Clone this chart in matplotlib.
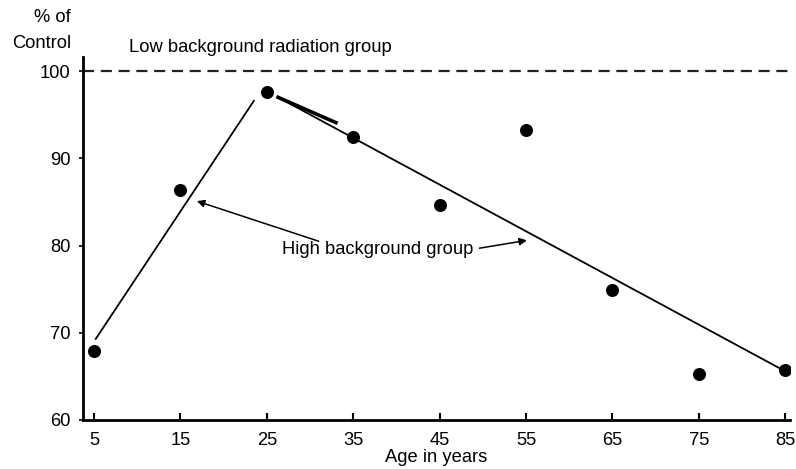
import matplotlib
matplotlib.use("Agg")
import matplotlib.pyplot as plt

plt.rcParams['font.family'] = ['Liberation Sans', 'DejaVu Sans']

# Data
ages = [5, 15, 25, 35, 45, 55, 65, 75, 85]
pct_control = [67.9, 86.4, 97.6, 92.5, 84.7, 93.3, 74.9, 65.3, 65.7]

# fitted trend lines (end points)
rise_x = [5.2, 23.5]
rise_y = [69.3, 96.6]
fall_x = [26.3, 84.4]
fall_y = [97.0, 65.9]
fall_thick_x = [26.3, 33.0]
fall_thick_y = [97.0, 94.1]

low_group_level = 100

xticks = [5, 15, 25, 35, 45, 55, 65, 75, 85]
yticks = [60, 70, 80, 90, 100]

fs = 13.2

fig = plt.figure(figsize=(7.96, 4.69), dpi=100)
ax = fig.add_axes([0.104, 0.1045, 0.888, 0.7735])

ax.axhline(low_group_level, color="#222222", lw=1.6, ls=(0, (5, 3)))
ax.plot(rise_x, rise_y, color="black", lw=1.3)
ax.plot(fall_x, fall_y, color="black", lw=1.3)
ax.plot(fall_thick_x, fall_thick_y, color="black", lw=2.6)
ax.scatter(ages, pct_control, s=70, color="black", zorder=3)

ax.annotate("", xy=(16.9, 85.1), xytext=(31.0, 80.5),
            arrowprops=dict(arrowstyle="-|>", color="black", lw=1.1,
                            mutation_scale=11, shrinkA=0, shrinkB=0))
ax.annotate("", xy=(55.1, 80.6), xytext=(49.6, 79.7),
            arrowprops=dict(arrowstyle="-|>", color="black", lw=1.1,
                            mutation_scale=11, shrinkA=0, shrinkB=0))
ax.text(26.7, 79.6, "High background group", fontsize=fs, va="center", ha="left")

ax.text(9.0, 102.7, "Low background radiation group", fontsize=fs,
        va="center", ha="left", clip_on=False)
fig.text(0.089, 0.935, "% of\nControl", fontsize=fs, ha="right", va="center",
         linespacing=1.7)

ax.set_xlim(3.7, 85.5)
ax.set_ylim(60, 101.6)
ax.set_xticks(xticks)
ax.set_yticks(yticks)
ax.tick_params(axis="x", direction="in", length=5, width=1.5, labelsize=fs, pad=9)
ax.tick_params(axis="y", direction="out", length=3, width=1.2, labelsize=fs, pad=6)
ax.spines["top"].set_visible(False)
ax.spines["right"].set_visible(False)
ax.spines["left"].set_linewidth(2)
ax.spines["bottom"].set_linewidth(2)
ax.set_xlabel("Age in years", fontsize=fs, labelpad=0)

fig.savefig("out.png", dpi=100)
